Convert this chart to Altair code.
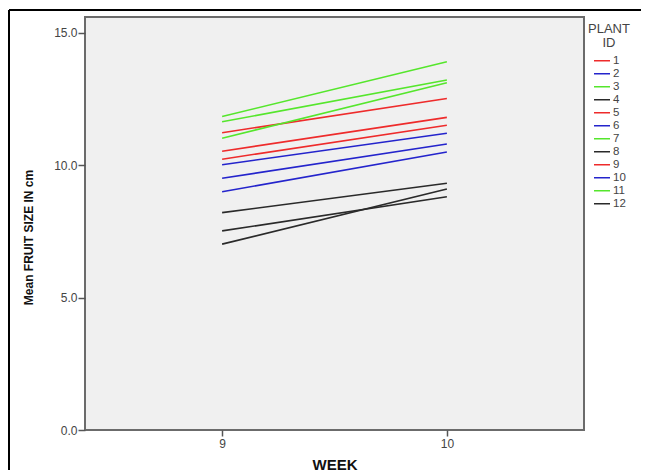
import altair as alt
import pandas as pd

# ---- data ----
plant_ids = ["1", "2", "3", "4", "5", "6", "7", "8", "9", "10", "11", "12"]
week9_means = [11.23, 10.02, 11.84, 8.21, 10.53, 9.51, 11.64, 7.52, 10.23, 9.00, 11.02, 7.02]
week10_means = [12.52, 11.21, 13.91, 9.32, 11.81, 10.80, 13.22, 8.81, 11.51, 10.50, 13.12, 9.10]
weeks = [9, 10]
y_ticks = [0, 5, 10, 15]

colors = ["#ee2b2b", "#2424cc", "#55e62c", "#2a2a2a"] * 3

rows = []
for pid, a, b in zip(plant_ids, week9_means, week10_means):
    rows.append({"PLANT ID": pid, "WEEK": weeks[0], "SIZE": a})
    rows.append({"PLANT ID": pid, "WEEK": weeks[1], "SIZE": b})
df = pd.DataFrame(rows)

lines = alt.Chart(df).mark_line(strokeWidth=1.6).encode(
    x=alt.X("WEEK:Q",
            scale=alt.Scale(domain=[8.39, 10.61], nice=False, zero=False),
            axis=alt.Axis(values=weeks, format="d", title="WEEK", grid=False,
                          domain=False, tickSize=6, tickWidth=1.5, tickColor="#555555",
                          labelFontSize=12, labelColor="#444444", labelFont="Liberation Sans",
                          labelPadding=2,
                          titleFont="Liberation Sans", titleFontSize=15, titleFontWeight="bold",
                          titleColor="#111111", titlePadding=8)),
    y=alt.Y("SIZE:Q",
            scale=alt.Scale(domain=[0, 15.6], nice=False),
            axis=alt.Axis(values=y_ticks, format=".1f", title="Mean FRUIT SIZE IN cm",
                          grid=False, domain=False, tickSize=7, tickWidth=1.5,
                          tickColor="#555555", labelFontSize=12, labelColor="#444444",
                          labelFont="Liberation Sans", labelPadding=1,
                          titleFont="Liberation Sans", titleFontSize=12,
                          titleFontWeight="bold", titleColor="#111111",
                          titleX=-50, titleY=220)),
    color=alt.Color("PLANT ID:N",
                    scale=alt.Scale(domain=plant_ids, range=colors),
                    sort=plant_ids,
                    legend=alt.Legend(title=["PLANT", "ID"], orient="none",
                                      legendX=503, legendY=6,
                                      titleFont="Liberation Sans", titleFontSize=13,
                                      titleFontWeight="normal", titleColor="#444444",
                                      titleAlign="center", titleAnchor="middle",
                                      titleLineHeight=13.5, titlePadding=5,
                                      symbolType="stroke", symbolSize=256,
                                      symbolStrokeWidth=1.6, labelFont="Liberation Sans",
                                      labelFontSize=11.5, labelColor="#444444",
                                      labelOffset=2, rowPadding=0, clipHeight=12.5)),
    detail="PLANT ID:N",
)

frame_top = alt.Chart(df).mark_rule(color="#000000", strokeWidth=1.5).encode(
    x=alt.value(-76), x2=alt.value(600), y=alt.value(-7))
frame_left = alt.Chart(df).mark_rule(color="#000000", strokeWidth=1.5).encode(
    x=alt.value(-76), y=alt.value(-7), y2=alt.value(500))

chart = alt.layer(lines, frame_top, frame_left).properties(
    width=499, height=413,
    autosize=alt.AutoSizeParams(type="none"),
    padding={"left": 77, "top": 9, "right": 57, "bottom": 40},
    background="white",
).configure_view(
    fill="#f0f0f0", stroke="#6b6b6b", strokeWidth=2
)

chart.save("out.html", embed_options={"renderer": "svg", "actions": False})
